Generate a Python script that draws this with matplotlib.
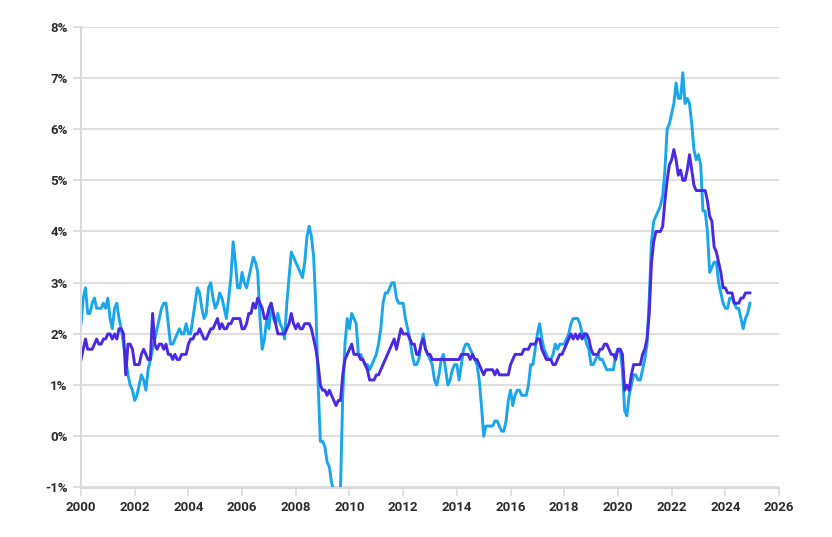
import matplotlib.pyplot as plt
import numpy as np

# PCE price index, year-over-year % change, monthly Jan 2000 - Dec 2024
pce = [
    2.2, 2.7, 2.9, 2.4, 2.4, 2.6, 2.7, 2.5, 2.5, 2.5, 2.6, 2.5,  # 2000
    2.7, 2.3, 2.1, 2.5, 2.6, 2.3, 2.1, 1.8, 1.5, 1.2, 1.0, 0.9,  # 2001
    0.7, 0.8, 1.0, 1.2, 1.1, 0.9, 1.3, 1.5, 1.7, 1.9, 2.1, 2.3,  # 2002
    2.5, 2.6, 2.6, 2.2, 1.8, 1.8, 1.9, 2.0, 2.1, 2.0, 2.0, 2.2,  # 2003
    2.0, 2.0, 2.3, 2.6, 2.9, 2.8, 2.5, 2.3, 2.4, 2.9, 3.0, 2.7,  # 2004
    2.5, 2.6, 2.8, 2.7, 2.5, 2.3, 2.7, 3.1, 3.8, 3.4, 2.9, 2.9,  # 2005
    3.2, 3.0, 2.9, 3.1, 3.3, 3.5, 3.4, 3.2, 2.3, 1.7, 1.9, 2.3,  # 2006
    2.1, 2.6, 2.3, 2.2, 2.4, 2.2, 2.1, 1.9, 2.6, 3.1, 3.6, 3.5,  # 2007
    3.4, 3.3, 3.2, 3.1, 3.4, 3.9, 4.1, 3.9, 3.5, 2.5, 1.0, -0.1,  # 2008
    -0.1, -0.2, -0.5, -0.6, -0.9, -1.1, -1.2, -1.1, -1.0, 0.8, 1.8, 2.3,  # 2009
    2.1, 2.4, 2.3, 2.2, 1.6, 1.6, 1.5, 1.4, 1.4, 1.3, 1.4, 1.5,  # 2010
    1.6, 1.8, 2.1, 2.6, 2.8, 2.8, 2.9, 3.0, 3.0, 2.7, 2.6, 2.6,  # 2011
    2.6, 2.3, 2.1, 1.9, 1.6, 1.4, 1.4, 1.5, 1.8, 2.0, 1.7, 1.6,  # 2012
    1.5, 1.4, 1.1, 1.0, 1.2, 1.5, 1.6, 1.3, 1.0, 1.1, 1.3, 1.4,  # 2013
    1.4, 1.1, 1.4, 1.7, 1.8, 1.8, 1.7, 1.6, 1.5, 1.4, 1.1, 0.6,  # 2014
    0.0, 0.2, 0.2, 0.2, 0.2, 0.3, 0.3, 0.2, 0.1, 0.1, 0.3, 0.7,  # 2015
    0.9, 0.6, 0.8, 0.9, 0.9, 0.8, 0.8, 0.8, 1.0, 1.4, 1.4, 1.7,  # 2016
    2.0, 2.2, 1.9, 1.7, 1.6, 1.5, 1.5, 1.6, 1.8, 1.7, 1.8, 1.8,  # 2017
    1.8, 1.9, 2.0, 2.2, 2.3, 2.3, 2.3, 2.2, 2.0, 2.0, 1.8, 1.7,  # 2018
    1.4, 1.4, 1.5, 1.6, 1.5, 1.5, 1.4, 1.3, 1.3, 1.3, 1.3, 1.6,  # 2019
    1.7, 1.7, 1.3, 0.5, 0.4, 0.8, 1.0, 1.2, 1.2, 1.1, 1.1, 1.3,  # 2020
    1.5, 1.8, 2.7, 3.8, 4.2, 4.3, 4.4, 4.5, 4.7, 5.2, 6.0, 6.1,  # 2021
    6.3, 6.5, 6.9, 6.6, 6.6, 7.1, 6.5, 6.6, 6.5, 6.1, 5.6, 5.4,  # 2022
    5.5, 5.3, 4.4, 4.4, 4.0, 3.2, 3.3, 3.4, 3.4, 3.0, 2.8, 2.6,  # 2023
    2.5, 2.5, 2.7, 2.7, 2.6, 2.5, 2.5, 2.3, 2.1, 2.3, 2.4, 2.6,  # 2024
]

# Core PCE (ex food and energy), year-over-year % change
core_pce = [
    1.5, 1.7, 1.9, 1.7, 1.7, 1.7, 1.8, 1.9, 1.8, 1.8, 1.9, 1.9,  # 2000
    2.0, 2.0, 1.9, 2.0, 1.9, 2.1, 2.1, 2.0, 1.2, 1.8, 1.8, 1.7,  # 2001
    1.4, 1.4, 1.4, 1.6, 1.7, 1.6, 1.5, 1.5, 2.4, 1.8, 1.7, 1.8,  # 2002
    1.8, 1.7, 1.8, 1.6, 1.6, 1.5, 1.6, 1.5, 1.5, 1.6, 1.6, 1.6,  # 2003
    1.8, 1.9, 1.9, 2.0, 2.0, 2.1, 2.0, 1.9, 1.9, 2.0, 2.1, 2.1,  # 2004
    2.2, 2.3, 2.1, 2.2, 2.1, 2.1, 2.2, 2.2, 2.3, 2.3, 2.3, 2.3,  # 2005
    2.1, 2.1, 2.2, 2.4, 2.4, 2.6, 2.5, 2.7, 2.6, 2.5, 2.3, 2.3,  # 2006
    2.5, 2.6, 2.4, 2.2, 2.0, 2.0, 2.0, 2.0, 2.1, 2.2, 2.4, 2.2,  # 2007
    2.1, 2.2, 2.1, 2.1, 2.2, 2.2, 2.2, 2.1, 1.9, 1.7, 1.4, 1.0,  # 2008
    0.9, 0.9, 0.8, 0.9, 0.8, 0.7, 0.6, 0.7, 0.7, 1.2, 1.5, 1.6,  # 2009
    1.7, 1.8, 1.6, 1.6, 1.6, 1.5, 1.5, 1.4, 1.3, 1.1, 1.1, 1.1,  # 2010
    1.2, 1.2, 1.3, 1.4, 1.5, 1.6, 1.7, 1.8, 1.9, 1.7, 1.9, 2.1,  # 2011
    2.0, 2.0, 2.0, 1.9, 1.8, 1.8, 1.6, 1.6, 1.8, 1.9, 1.7, 1.6,  # 2012
    1.6, 1.5, 1.5, 1.5, 1.5, 1.5, 1.5, 1.5, 1.5, 1.5, 1.5, 1.5,  # 2013
    1.5, 1.5, 1.6, 1.6, 1.6, 1.6, 1.5, 1.6, 1.5, 1.5, 1.4, 1.3,  # 2014
    1.2, 1.3, 1.3, 1.3, 1.3, 1.2, 1.3, 1.2, 1.2, 1.2, 1.2, 1.2,  # 2015
    1.4, 1.5, 1.6, 1.6, 1.6, 1.6, 1.7, 1.7, 1.7, 1.8, 1.8, 1.8,  # 2016
    1.9, 1.9, 1.7, 1.6, 1.5, 1.5, 1.5, 1.4, 1.4, 1.5, 1.6, 1.6,  # 2017
    1.7, 1.8, 1.9, 2.0, 1.9, 2.0, 1.9, 2.0, 1.9, 2.0, 2.0, 1.9,  # 2018
    1.7, 1.6, 1.6, 1.6, 1.7, 1.7, 1.8, 1.8, 1.7, 1.6, 1.6, 1.5,  # 2019
    1.7, 1.7, 1.6, 0.9, 1.0, 0.9, 1.2, 1.4, 1.4, 1.4, 1.4, 1.6,  # 2020
    1.7, 1.9, 2.4, 3.4, 3.8, 4.0, 4.0, 4.0, 4.1, 4.6, 5.0, 5.3,  # 2021
    5.4, 5.6, 5.4, 5.1, 5.2, 5.0, 5.0, 5.2, 5.5, 5.2, 4.9, 4.8,  # 2022
    4.8, 4.8, 4.8, 4.8, 4.6, 4.3, 4.2, 3.7, 3.6, 3.4, 3.2, 2.9,  # 2023
    2.9, 2.8, 2.8, 2.8, 2.6, 2.6, 2.6, 2.7, 2.7, 2.8, 2.8, 2.8,  # 2024
]

start_year = 2000
x_ticks = [2000, 2002, 2004, 2006, 2008, 2010, 2012, 2014, 2016, 2018, 2020, 2022, 2024, 2026]
y_ticks = [-1, 0, 1, 2, 3, 4, 5, 6, 7, 8]

grey = '#d9d9d9'
text_color = '#2b2b2b'

# months as fractional years
dates = start_year + np.arange(len(pce)) / 12

fig = plt.figure(figsize=(8.32, 5.37), dpi=100)
ax = fig.add_axes([81 / 832, 1 - 487.5 / 537, 698 / 832, 460.8 / 537])

ax.plot(dates, pce, color='#1ba6ec', lw=2.1, solid_joinstyle='round')
ax.plot(dates, core_pce, color='#4a29e2', lw=2.1, solid_joinstyle='round')

ax.set_xlim(2000, 2026)
ax.set_ylim(-1, 8)
ax.set_xticks(x_ticks)
ax.set_xticklabels([str(t) for t in x_ticks])
ax.set_yticks(y_ticks)
ax.set_yticklabels([f'{t}%' for t in y_ticks])

ax.grid(axis='y', color=grey, lw=1.2, zorder=0)
ax.set_axisbelow(True)
for side in ['top', 'right']:
    ax.spines[side].set_visible(False)
for side in ['left', 'bottom']:
    ax.spines[side].set_color(grey)
    ax.spines[side].set_linewidth(1.4)

ax.tick_params(axis='both', colors=grey, length=6, width=1.2)
ax.tick_params(axis='y', pad=3.5)
ax.tick_params(axis='x', pad=4)
for lbl in ax.get_xticklabels() + ax.get_yticklabels():
    lbl.set_color(text_color)
    lbl.set_fontfamily('Roboto')
    lbl.set_fontweight('semibold')
    lbl.set_fontsize(9.5)

fig.savefig('out.png', dpi=100)
